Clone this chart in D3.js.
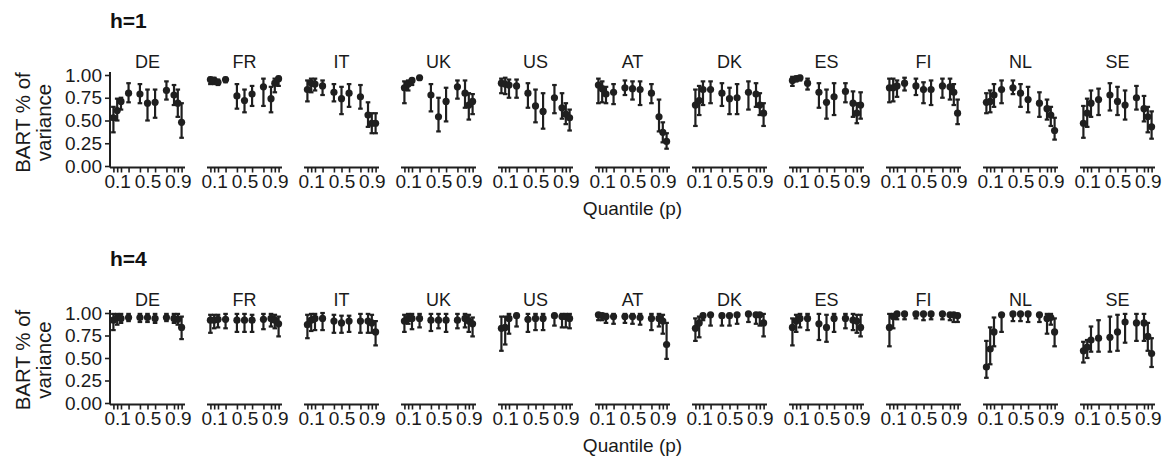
<!DOCTYPE html>
<html><head><meta charset="utf-8">
<script src="https://cdn.jsdelivr.net/npm/d3@7"></script>
<style>body{margin:0;background:#fff;} svg{display:block;font-family:"Liberation Sans",Arial,sans-serif;}</style>
</head><body>
<svg id="chart" width="1168" height="462"></svg>
<script>
const countries = ["DE","FR","IT","UK","US","AT","DK","ES","FI","NL","SE"];
const quantiles = [0.05,0.1,0.15,0.25,0.4,0.5,0.6,0.75,0.85,0.9,0.95];
const xTickLabels = {0.1:"0.1",0.5:"0.5",0.9:"0.9"};
const yTicks = [0,0.25,0.5,0.75,1];
const horizons = ["h=1","h=4"];

// h=1: estimate, lower, upper per country (ordered as quantiles)
const h1_est = {
 DE:[0.53,0.61,0.71,0.80,0.79,0.69,0.70,0.83,0.78,0.69,0.48],
 FR:[0.95,0.94,0.92,0.95,0.77,0.72,0.79,0.87,0.74,0.91,0.96],
 IT:[0.84,0.91,0.90,0.88,0.81,0.74,0.80,0.76,0.56,0.47,0.47],
 UK:[0.86,0.90,0.94,0.97,0.78,0.54,0.71,0.87,0.80,0.67,0.71],
 US:[0.91,0.90,0.89,0.88,0.80,0.66,0.60,0.75,0.64,0.57,0.53],
 AT:[0.89,0.85,0.79,0.81,0.86,0.85,0.84,0.80,0.54,0.37,0.27],
 DK:[0.67,0.72,0.84,0.84,0.80,0.74,0.75,0.81,0.79,0.67,0.58],
 ES:[0.94,0.96,0.97,0.91,0.81,0.70,0.76,0.82,0.69,0.58,0.67],
 FI:[0.86,0.86,0.88,0.91,0.88,0.84,0.84,0.88,0.87,0.81,0.58],
 NL:[0.70,0.71,0.78,0.84,0.86,0.80,0.73,0.69,0.63,0.56,0.39],
 SE:[0.47,0.58,0.69,0.73,0.78,0.71,0.67,0.75,0.63,0.54,0.43]
};
const h1_lo = {
 DE:[0.37,0.50,0.62,0.70,0.69,0.50,0.53,0.73,0.67,0.54,0.31],
 FR:[0.90,0.90,0.89,0.92,0.63,0.59,0.66,0.66,0.59,0.81,0.88],
 IT:[0.71,0.81,0.83,0.78,0.71,0.57,0.65,0.63,0.43,0.36,0.36],
 UK:[0.69,0.83,0.89,0.95,0.60,0.38,0.49,0.74,0.64,0.51,0.57],
 US:[0.80,0.79,0.75,0.75,0.64,0.48,0.41,0.58,0.52,0.46,0.39],
 AT:[0.69,0.70,0.69,0.68,0.78,0.73,0.67,0.69,0.38,0.26,0.19],
 DK:[0.44,0.56,0.67,0.69,0.66,0.57,0.57,0.62,0.65,0.56,0.44],
 ES:[0.88,0.93,0.94,0.84,0.64,0.52,0.56,0.70,0.54,0.47,0.52],
 FI:[0.70,0.71,0.76,0.83,0.78,0.69,0.67,0.75,0.73,0.67,0.46],
 NL:[0.58,0.59,0.65,0.69,0.79,0.65,0.59,0.54,0.51,0.44,0.29],
 SE:[0.31,0.43,0.54,0.56,0.61,0.56,0.51,0.62,0.49,0.37,0.30]
};
const h1_hi = {
 DE:[0.65,0.74,0.75,0.91,0.90,0.84,0.84,0.93,0.89,0.84,0.69],
 FR:[0.97,0.97,0.95,0.97,0.90,0.84,0.88,0.96,0.87,0.96,0.98],
 IT:[0.94,0.96,0.96,0.94,0.90,0.87,0.90,0.89,0.70,0.58,0.58],
 UK:[0.93,0.94,0.96,0.99,0.90,0.75,0.86,0.94,0.94,0.80,0.79],
 US:[0.96,0.97,0.95,0.95,0.91,0.84,0.80,0.89,0.80,0.69,0.62],
 AT:[0.96,0.93,0.87,0.90,0.94,0.93,0.93,0.90,0.73,0.48,0.36],
 DK:[0.84,0.88,0.93,0.93,0.91,0.86,0.90,0.93,0.91,0.80,0.69],
 ES:[0.98,0.98,0.99,0.96,0.91,0.84,0.91,0.91,0.82,0.69,0.81],
 FI:[0.96,0.96,0.94,0.97,0.96,0.92,0.94,0.96,0.96,0.90,0.73],
 NL:[0.80,0.83,0.90,0.94,0.94,0.90,0.87,0.81,0.73,0.65,0.53],
 SE:[0.66,0.74,0.83,0.85,0.91,0.87,0.83,0.88,0.77,0.65,0.60]
};

// h=4
const h4_est = {
 DE:[0.92,0.95,0.94,0.95,0.95,0.95,0.94,0.95,0.94,0.93,0.84],
 FR:[0.92,0.92,0.93,0.93,0.92,0.92,0.92,0.93,0.94,0.92,0.88],
 IT:[0.87,0.92,0.94,0.94,0.91,0.89,0.91,0.91,0.91,0.89,0.79],
 UK:[0.91,0.94,0.94,0.94,0.92,0.92,0.92,0.92,0.94,0.91,0.88],
 US:[0.83,0.84,0.94,0.97,0.93,0.94,0.94,0.97,0.96,0.96,0.94],
 AT:[0.98,0.97,0.96,0.96,0.96,0.96,0.95,0.94,0.94,0.91,0.65],
 DK:[0.83,0.89,0.97,0.98,0.97,0.97,0.98,0.99,0.98,0.98,0.89],
 ES:[0.84,0.91,0.94,0.94,0.88,0.84,0.94,0.94,0.92,0.91,0.84],
 FI:[0.84,0.96,0.99,0.99,0.99,0.99,0.99,0.99,0.98,0.98,0.97],
 NL:[0.40,0.60,0.79,0.98,0.99,0.99,0.99,0.98,0.94,0.95,0.79],
 SE:[0.58,0.62,0.70,0.72,0.73,0.79,0.90,0.89,0.89,0.74,0.55]
};
const h4_lo = {
 DE:[0.81,0.87,0.89,0.91,0.90,0.90,0.89,0.91,0.89,0.87,0.71],
 FR:[0.78,0.83,0.84,0.83,0.79,0.79,0.79,0.82,0.85,0.83,0.74],
 IT:[0.72,0.80,0.81,0.81,0.78,0.78,0.79,0.78,0.78,0.78,0.64],
 UK:[0.79,0.88,0.82,0.84,0.80,0.83,0.79,0.83,0.84,0.79,0.74],
 US:[0.58,0.65,0.77,0.85,0.79,0.81,0.81,0.86,0.84,0.84,0.83],
 AT:[0.92,0.92,0.89,0.88,0.89,0.88,0.87,0.81,0.85,0.77,0.49],
 DK:[0.69,0.73,0.92,0.86,0.86,0.86,0.88,0.90,0.88,0.86,0.74],
 ES:[0.64,0.79,0.84,0.81,0.70,0.68,0.79,0.83,0.81,0.78,0.74],
 FI:[0.63,0.83,0.93,0.93,0.94,0.92,0.93,0.93,0.92,0.90,0.90],
 NL:[0.28,0.43,0.63,0.79,0.91,0.91,0.90,0.90,0.77,0.87,0.63],
 SE:[0.45,0.50,0.57,0.57,0.57,0.58,0.67,0.69,0.69,0.58,0.40]
};
const h4_hi = {
 DE:[0.99,0.99,0.99,0.99,0.99,0.99,0.99,0.99,0.99,0.99,0.96],
 FR:[0.98,0.98,0.98,0.99,0.99,0.99,0.98,0.99,0.99,0.98,0.96],
 IT:[0.98,0.99,0.99,1.00,0.98,0.97,0.97,0.99,0.99,0.98,0.91],
 UK:[0.98,0.99,0.99,0.99,0.99,0.99,0.99,0.99,0.99,0.98,0.95],
 US:[0.96,0.96,0.99,0.99,0.99,0.99,0.99,0.99,0.99,0.99,0.99],
 AT:[0.99,0.99,0.99,0.99,0.99,0.99,0.99,0.99,0.99,0.98,0.89],
 DK:[0.94,0.96,0.99,0.99,0.99,0.99,0.99,1.00,1.00,0.99,0.99],
 ES:[0.94,0.98,0.99,0.99,0.99,0.98,0.99,0.99,0.99,0.98,0.98],
 FI:[0.99,0.99,1.00,1.00,1.00,1.00,1.00,1.00,0.99,0.99,0.99],
 NL:[0.69,0.84,0.95,0.99,1.00,1.00,1.00,1.00,0.99,0.99,0.94],
 SE:[0.68,0.70,0.85,0.92,0.96,0.98,0.99,0.99,0.99,0.89,0.72]
};

const rows = [
 {label: horizons[0], est: h1_est, lo: h1_lo, hi: h1_hi, top: 75, bottom: 166},
 {label: horizons[1], est: h4_est, lo: h4_lo, hi: h4_hi, top: 313, bottom: 403}
];

const svg = d3.select("#chart");
const ink = "#1f1f1f";
const txt = "#1a1a1a";
const panelX0 = 110, panelStep = 97, panelW = 75;

rows.forEach(row => {
  const y = d3.scaleLinear().domain([0,1]).range([row.bottom,row.top]);
  const axisY = row.bottom + 1.5;

  svg.append("text").attr("x",110).attr("y",row.top - 47)
    .attr("font-size",21).attr("font-weight","bold").attr("fill","#111").text(row.label);

  // y axis title
  const midY = (row.top + row.bottom)/2 + 2;
  const yt = svg.append("text").attr("transform",`translate(30,${midY}) rotate(-90)`)
    .attr("text-anchor","middle").attr("font-size",20.5).attr("fill",txt);
  yt.append("tspan").attr("x",0).attr("dy","0").text("BART % of");
  yt.append("tspan").attr("x",0).attr("dy","21").text("variance");

  svg.append("text").attr("x", panelX0 + (10*panelStep + panelW)/2).attr("y", axisY + 47)
    .attr("text-anchor","middle").attr("font-size",19).attr("fill",txt).text("Quantile (p)");

  countries.forEach((c,i) => {
    const x0 = panelX0 + i*panelStep;
    const x = d3.scaleLinear().domain([0.005,0.995]).range([x0, x0+panelW]);
    const g = svg.append("g");

    g.append("text").attr("x",x0+panelW/2).attr("y",row.top-7)
      .attr("text-anchor","middle").attr("font-size",18).attr("fill",txt).text(c);

    if (i===0) {
      const ya = g.append("g").attr("transform",`translate(${x0},0)`)
        .call(d3.axisLeft(y).tickValues(yTicks).tickFormat(d3.format(".2f")).tickSize(5).tickSizeOuter(0));
      ya.select(".domain").remove();
      g.append("line").attr("x1",x0).attr("x2",x0).attr("y1",row.top-3).attr("y2",axisY)
        .attr("stroke",ink).attr("stroke-width",2);
      ya.selectAll(".tick line").attr("stroke",ink).attr("stroke-width",1.6);
      ya.selectAll(".tick text").attr("font-size",19).attr("fill",txt).attr("x",-8)
        .attr("font-family","Liberation Sans, Arial, sans-serif");
    }

    const xa = g.append("g").attr("transform",`translate(0,${axisY})`)
      .call(d3.axisBottom(x).tickValues(quantiles).tickFormat(d => xTickLabels[d] || "").tickSize(5).tickSizeOuter(0));
    xa.select(".domain").remove();
    g.append("line").attr("x1",x0).attr("x2",x0+panelW).attr("y1",axisY).attr("y2",axisY)
      .attr("stroke",ink).attr("stroke-width",2);
    xa.selectAll(".tick line").attr("stroke",ink).attr("stroke-width",1.6);
    xa.selectAll(".tick text").attr("font-size",19).attr("fill",txt).attr("y",7)
      .attr("font-family","Liberation Sans, Arial, sans-serif");

    const data = quantiles.map((q,k) => ({q, e: row.est[c][k], lo: row.lo[c][k], hi: row.hi[c][k]}));
    const capW = 2.3;
    const eb = g.append("g");
    eb.selectAll(".v").data(data).enter().append("line")
      .attr("x1",d=>x(d.q)).attr("x2",d=>x(d.q)).attr("y1",d=>y(d.lo)).attr("y2",d=>y(d.hi))
      .attr("stroke",ink).attr("stroke-width",2.2);
    eb.selectAll(".t").data(data).enter().append("line")
      .attr("x1",d=>x(d.q)-capW).attr("x2",d=>x(d.q)+capW).attr("y1",d=>y(d.hi)).attr("y2",d=>y(d.hi))
      .attr("stroke",ink).attr("stroke-width",2.2);
    eb.selectAll(".b").data(data).enter().append("line")
      .attr("x1",d=>x(d.q)-capW).attr("x2",d=>x(d.q)+capW).attr("y1",d=>y(d.lo)).attr("y2",d=>y(d.lo))
      .attr("stroke",ink).attr("stroke-width",2.2);
    g.selectAll("circle").data(data).enter().append("circle")
      .attr("cx",d=>x(d.q)).attr("cy",d=>y(d.e)).attr("r",3.6).attr("fill",ink);
  });
});
</script>
</body></html>
